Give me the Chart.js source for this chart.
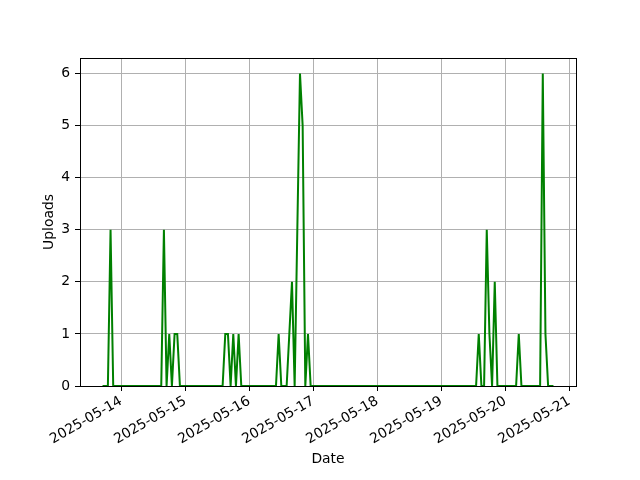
<!DOCTYPE html>
<html>
<head>
<meta charset="utf-8">
<script src="https://cdn.jsdelivr.net/npm/chart.js@4"></script>
<style>
body { margin: 0; background: #fff; }
</style>
</head>
<body>
<canvas id="uploads_Chart" width="640" height="480"></canvas>
<script>
// hourly upload counts (UTC), only the vertices of the line
const times = [
  '2025-05-13T17:00', '2025-05-13T19:00', '2025-05-13T20:00', '2025-05-13T21:00',
  '2025-05-14T15:00', '2025-05-14T16:00', '2025-05-14T17:00', '2025-05-14T18:00',
  '2025-05-14T19:00', '2025-05-14T20:00', '2025-05-14T21:00', '2025-05-14T22:00',
  '2025-05-15T14:00', '2025-05-15T15:00', '2025-05-15T16:00', '2025-05-15T17:00',
  '2025-05-15T18:00', '2025-05-15T19:00', '2025-05-15T20:00', '2025-05-15T21:00',
  '2025-05-16T10:00', '2025-05-16T11:00', '2025-05-16T12:00', '2025-05-16T14:00',
  '2025-05-16T15:00', '2025-05-16T16:00', '2025-05-16T17:00', '2025-05-16T18:00',
  '2025-05-16T19:00', '2025-05-16T20:00', '2025-05-16T21:00', '2025-05-16T22:00',
  '2025-05-16T23:00',
  '2025-05-19T13:00', '2025-05-19T14:00', '2025-05-19T15:00', '2025-05-19T16:00',
  '2025-05-19T17:00', '2025-05-19T18:00', '2025-05-19T19:00', '2025-05-19T20:00',
  '2025-05-19T21:00',
  '2025-05-20T04:00', '2025-05-20T05:00', '2025-05-20T06:00', '2025-05-20T13:00',
  '2025-05-20T14:00', '2025-05-20T15:00', '2025-05-20T16:00', '2025-05-20T18:00'
];
const uploads = [
  0, 0, 3, 0,
  0, 3, 0, 1,
  0, 1, 1, 0,
  0, 1, 1, 0,
  1, 0, 1, 0,
  0, 1, 0, 0,
  1, 2, 0, 3,
  6, 5, 0, 1,
  0,
  0, 1, 0, 0,
  3, 1, 0, 2,
  0,
  0, 1, 0, 0,
  6, 1, 0, 0
];
const dayTicks = ['2025-05-14', '2025-05-15', '2025-05-16', '2025-05-17',
                  '2025-05-18', '2025-05-19', '2025-05-20', '2025-05-21'];
const yTicks = [0, 1, 2, 3, 4, 5, 6];
const xMin = '2025-05-13T08:33';
const xMax = '2025-05-21T02:27';
const yMax = 6.3;

function toMs(s) { return Date.parse(s + ':00Z'); }

const font = { family: 'DejaVu Sans', size: 13.9 };

// black box around the plot, drawn over the line like matplotlib spines
const framePlugin = {
  id: 'frame',
  afterDatasetsDraw(chart) {
    const a = chart.chartArea;
    const ctx = chart.ctx;
    ctx.save();
    ctx.strokeStyle = '#000';
    ctx.lineWidth = 1;
    ctx.strokeRect(Math.round(a.left) + 0.5, Math.round(a.top) + 0.5,
                   Math.round(a.right - a.left), Math.round(a.bottom - a.top));
    ctx.restore();
  }
};

var uploads_Chart = new Chart('uploads_Chart', {
  type: 'line',
  data: {
    datasets: [{
      data: times.map((t, i) => ({ x: toMs(t), y: uploads[i] })),
      borderColor: 'green',
      borderWidth: 2,
      pointRadius: 0,
      tension: 0,
      fill: false
    }]
  },
  options: {
    responsive: false,
    animation: false,
    layout: { padding: { left: 37, right: 64, top: 58, bottom: 8 } },
    plugins: { legend: { display: false }, tooltip: { enabled: false } },
    scales: {
      x: {
        type: 'linear',
        min: toMs(xMin),
        max: toMs(xMax),
        afterBuildTicks: s => { s.ticks = dayTicks.map(d => ({ value: toMs(d + 'T00:00') })); },
        afterFit: s => { s.height = 86; },
        ticks: {
          autoSkip: false,
          minRotation: 30,
          maxRotation: 30,
          padding: 2,
          color: '#000',
          font: font,
          callback: v => new Date(v).toISOString().slice(0, 10)
        },
        grid: { color: '#b0b0b0', tickColor: '#000', tickLength: 5, lineWidth: 1 },
        border: { display: false },
        title: { display: true, text: 'Date', color: '#000', font: font, padding: { top: 4, bottom: 4 } }
      },
      y: {
        min: 0,
        max: yMax,
        afterBuildTicks: s => { s.ticks = yTicks.map(v => ({ value: v })); },
        afterFit: s => { s.width = 43; },
        ticks: { color: '#000', font: font, padding: 5 },
        grid: { color: '#b0b0b0', tickColor: '#000', tickLength: 5, lineWidth: 1 },
        border: { display: false },
        title: { display: true, text: 'Uploads', color: '#000', font: font, padding: { top: 4, bottom: 4 } }
      }
    }
  },
  plugins: [framePlugin]
});
</script>
</body>
</html>
